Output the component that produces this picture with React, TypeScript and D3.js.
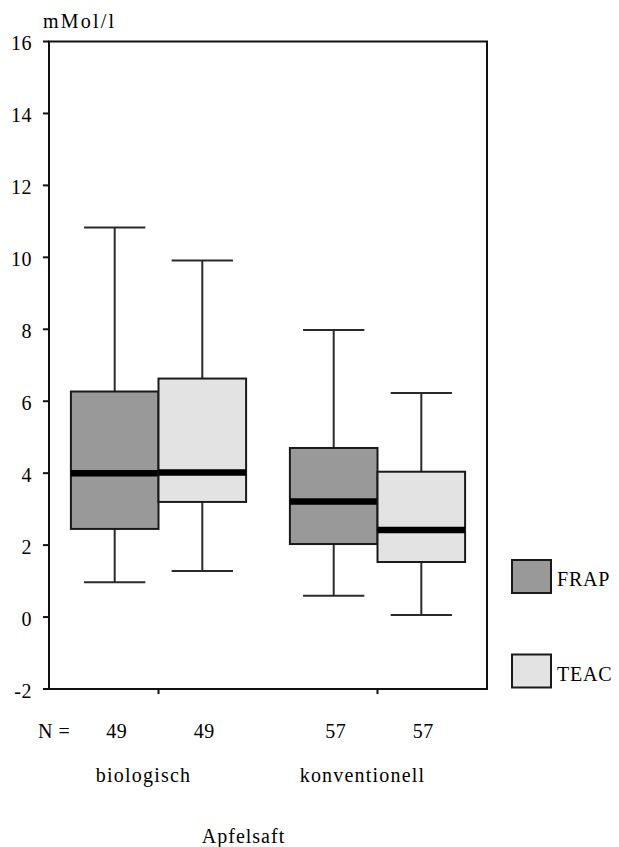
import React from 'react';
import * as d3 from 'd3';

// Apfelsaft, antioxidative capacity (mMol/l)
const groups = ['biologisch', 'konventionell'];
const series = ['FRAP', 'TEAC'];
const nCounts = { FRAP: [49, 57], TEAC: [49, 57] };

const frapLow = [0.97, 0.59];
const frapQ1 = [2.45, 2.03];
const frapMedian = [4.0, 3.21];
const frapQ3 = [6.27, 4.7];
const frapHigh = [10.83, 7.98];

const teacLow = [1.28, 0.06];
const teacQ1 = [3.2, 1.53];
const teacMedian = [4.02, 2.42];
const teacQ3 = [6.63, 4.04];
const teacHigh = [9.91, 6.23];

const yTicks = [-2, 0, 2, 4, 6, 8, 10, 12, 14, 16];

const fills = { FRAP: '#999999', TEAC: '#e3e3e3' };

const width = 619;
const height = 847;
const margin = { top: 41.5, right: 132, bottom: 158, left: 49 };
const font = 'Liberation Serif, Times New Roman, serif';

export default function App() {
  const x = d3.scaleBand()
    .domain(groups)
    .range([margin.left, width - margin.right])
    .padding(0);

  const inner = d3.scaleBand()
    .domain(series)
    .range([x.bandwidth() * 0.1, x.bandwidth() * 0.9])
    .padding(0);

  const y = d3.scaleLinear()
    .domain([-2, 16])
    .range([height - margin.bottom, margin.top]);

  const boxes = groups.flatMap((g, i) => [
    { group: g, key: 'FRAP', n: nCounts.FRAP[i], low: frapLow[i], q1: frapQ1[i], med: frapMedian[i], q3: frapQ3[i], high: frapHigh[i] },
    { group: g, key: 'TEAC', n: nCounts.TEAC[i], low: teacLow[i], q1: teacQ1[i], med: teacMedian[i], q3: teacQ3[i], high: teacHigh[i] },
  ]);

  const bw = inner.bandwidth();
  const capW = bw * 0.7;

  const legendY = d3.scalePoint()
    .domain(series)
    .range([576.5, 671]);

  return (
    <svg width={width} height={height} style={{ position: 'absolute', left: 0, top: 0, background: '#fff' }}
      fontFamily={font}>
      {/* unit label */}
      <text x={43} y={28} fontSize={20} letterSpacing={2.2} fill="#000">mMol/l</text>

      {/* y axis ticks */}
      {yTicks.map(t => (
        <g key={t}>
          <line x1={margin.left - 6} x2={margin.left} y1={y(t)} y2={y(t)} stroke="#111" strokeWidth={2} />
          <text x={32} y={y(t) + 8.5} textAnchor="end" fontSize={20} letterSpacing={0.5} fill="#000">{t}</text>
        </g>
      ))}

      {/* boxes */}
      {boxes.map(b => {
        const x0 = x(b.group)! + inner(b.key)!;
        const cx = x0 + bw / 2;
        return (
          <g key={b.group + b.key}>
            <line x1={cx} x2={cx} y1={y(b.high)} y2={y(b.q3)} stroke="#2a2a2a" strokeWidth={2} />
            <line x1={cx} x2={cx} y1={y(b.q1)} y2={y(b.low)} stroke="#2a2a2a" strokeWidth={2} />
            <line x1={cx - capW / 2} x2={cx + capW / 2} y1={y(b.high)} y2={y(b.high)} stroke="#2a2a2a" strokeWidth={2} />
            <line x1={cx - capW / 2} x2={cx + capW / 2} y1={y(b.low)} y2={y(b.low)} stroke="#2a2a2a" strokeWidth={2} />
            <rect x={x0} y={y(b.q3)} width={bw} height={y(b.q1) - y(b.q3)}
              fill={fills[b.key]} stroke="#1a1a1a" strokeWidth={2} />
            <line x1={x0} x2={x0 + bw} y1={y(b.med)} y2={y(b.med)} stroke="#000" strokeWidth={6.5} />
          </g>
        );
      })}

      {/* frame */}
      <rect x={margin.left} y={margin.top} width={width - margin.left - margin.right}
        height={height - margin.top - margin.bottom} fill="none" stroke="#111" strokeWidth={2} />

      {/* category ticks */}
      {groups.map(g => (
        <line key={g} x1={x(g)! + x.bandwidth() / 2} x2={x(g)! + x.bandwidth() / 2}
          y1={height - margin.bottom} y2={height - margin.bottom + 5} stroke="#111" strokeWidth={2} />
      ))}

      {/* N row */}
      <text x={38} y={738} fontSize={20} fill="#000">N<tspan dx={6}>=</tspan></text>
      {boxes.map(b => (
        <text key={'n' + b.group + b.key} x={x(b.group)! + inner(b.key)! + bw / 2 + 2} y={738}
          textAnchor="middle" fontSize={20} letterSpacing={0.5} fill="#000">{b.n}</text>
      ))}

      {/* group labels */}
      {groups.map(g => (
        <text key={'l' + g} x={x(g)! + x.bandwidth() / 2 - 15} y={782} textAnchor="middle"
          fontSize={20} letterSpacing={1.2} fill="#000">{g}</text>
      ))}

      <text x={243.5} y={843} textAnchor="middle" fontSize={20} letterSpacing={1} fill="#000">Apfelsaft</text>

      {/* legend */}
      {series.map(s => (
        <g key={'lg' + s}>
          <rect x={512} y={legendY(s)! - 16.5} width={39} height={33} fill={fills[s]} stroke="#1a1a1a" strokeWidth={2} />
          <text x={557} y={legendY(s)! + 9.5} fontSize={20} letterSpacing={0.8} fill="#000">{s}</text>
        </g>
      ))}
    </svg>
  );
}
